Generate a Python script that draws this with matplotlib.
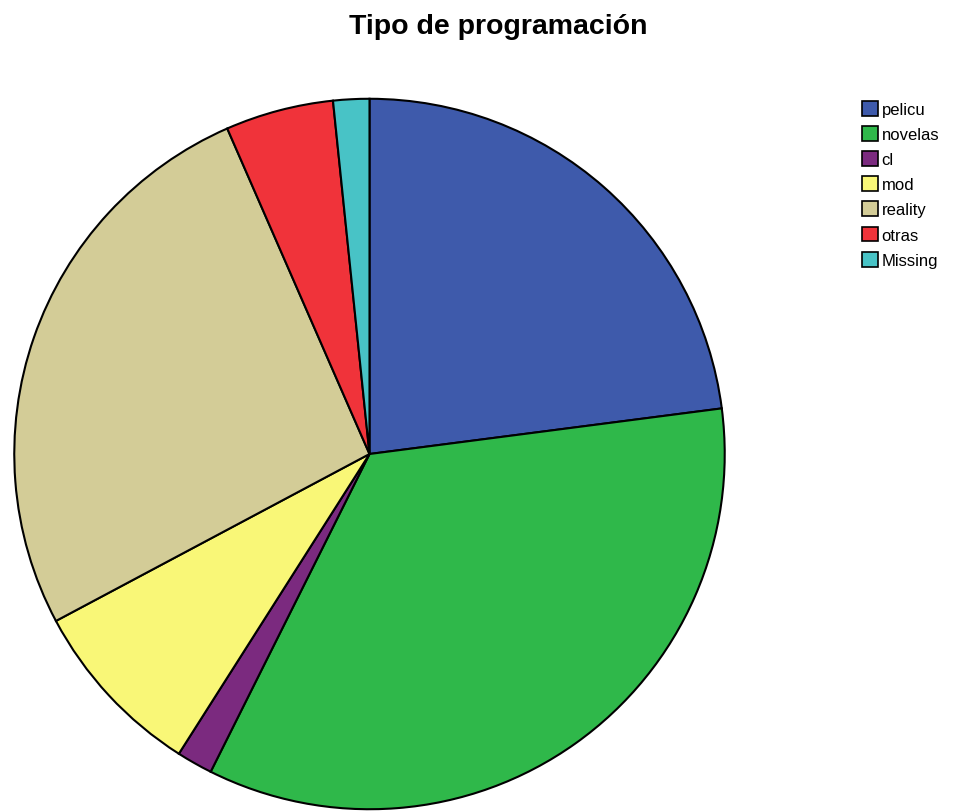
import matplotlib.pyplot as plt
from matplotlib.patches import Patch

plt.rcParams['font.family'] = ['Liberation Sans', 'DejaVu Sans']

# Frecuencias por tipo de programación
categorias = ['pelicu', 'novelas', 'cl', 'mod', 'reality', 'otras', 'Missing']
frecuencias = [14, 21, 1, 5, 16, 3, 1]
colores = ['#3e5aab', '#2fb84a', '#7b2a7f', '#f9f777', '#d3cc97', '#f0333a', '#48c3c6']

fig = plt.figure(figsize=(9.56, 8.12), dpi=100)
ax = fig.add_axes([12.5 / 956, 0.0, 714 / 956, 714 / 812])

ax.pie(frecuencias, colors=colores, startangle=90, counterclock=False,
       radius=1, wedgeprops=dict(edgecolor='black', linewidth=1.5))
ax.set_xlim(-1.005, 1.005)
ax.set_ylim(-1.005, 1.005)
ax.set_aspect('equal')
ax.axis('off')

fig.text(498 / 956, 1 - 27 / 812, 'Tipo de programación', ha='center', va='center',
         fontsize=20.5, fontweight='bold')

handles = [Patch(facecolor=c, edgecolor='black', linewidth=1.2) for c in colores]
fig.legend(handles, categorias, loc='upper left',
           bbox_to_anchor=(850 / 956, 1 - 90 / 812), frameon=False,
           fontsize=12, handlelength=1.0, handleheight=1.0,
           handletextpad=0.2, labelspacing=0.54, borderpad=0.2)

fig.savefig('out.png', dpi=100)
